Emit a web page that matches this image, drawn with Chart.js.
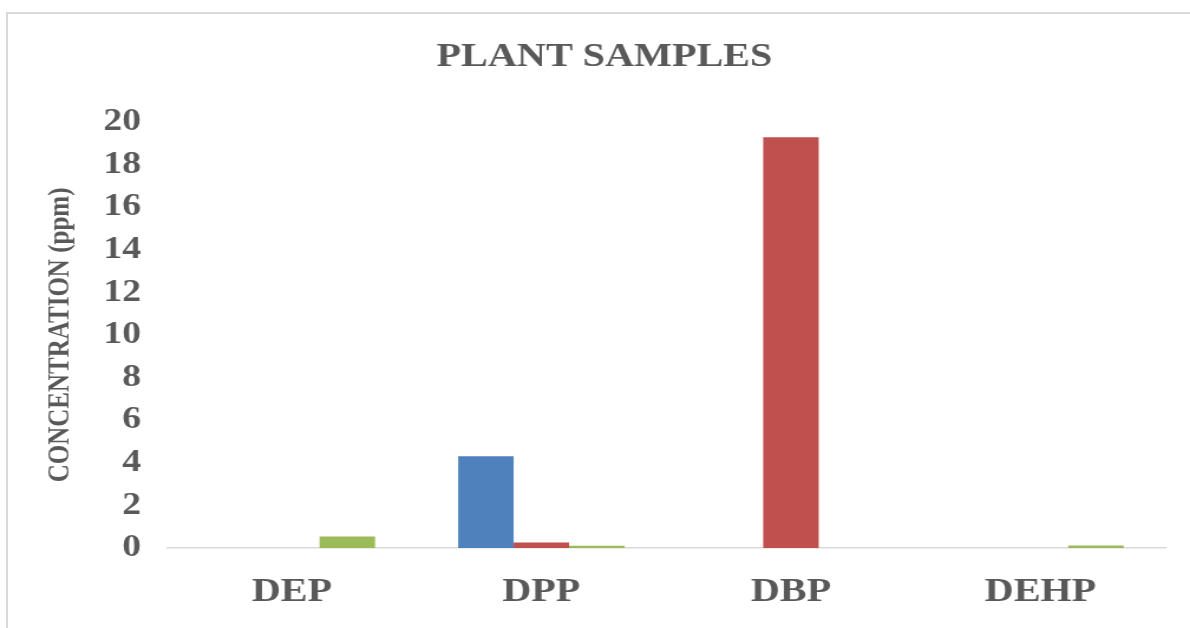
<!DOCTYPE html>
<html>
<head>
<meta charset="utf-8">
<title>PLANT SAMPLES</title>
<script src="https://cdn.jsdelivr.net/npm/chart.js@4.4.1/dist/chart.umd.min.js"></script>
<style>
  html, body { margin: 0; padding: 0; background: #ffffff; overflow: hidden; }
  body { width: 1190px; height: 628px; position: relative; }
  #frame {
    position: absolute; left: 6px; top: 12px; right: 0; bottom: 0;
    border-left: 2px solid #d9d9d9; border-top: 2px solid #d9d9d9;
  }
  /* chart is laid out narrower and widened, giving the wide serif lettering */
  #wrap {
    position: absolute; left: 0; top: 0;
    width: 1008px; height: 628px;
    transform: scaleX(1.1806); transform-origin: 0 0;
  }
</style>
</head>
<body>
<div id="frame"></div>
<div id="wrap"><canvas id="chart"></canvas></div>
<script>
// Phthalate concentrations measured in plant samples (ppm)
const categories = ['DEP', 'DPP', 'DBP', 'DEHP'];
const seriesNames = ['Sample A', 'Sample B', 'Sample C'];
const seriesA = [0, 4.31, 0, 0];
const seriesB = [0, 0.26, 19.28, 0];
const seriesC = [0.54, 0.10, 0, 0.12];
const yTicks = [0, 2, 4, 6, 8, 10, 12, 14, 16, 18, 20];

const colors = ['#4f81bd', '#c0504d', '#9bbb59'];
const textColor = '#595959';
const serif = '"Liberation Serif", "Times New Roman", serif';

const datasets = [seriesA, seriesB, seriesC].map((values, i) => ({
  label: seriesNames[i],
  data: values,
  backgroundColor: colors[i],
  borderWidth: 0,
  categoryPercentage: 0.667,
  barPercentage: 1.0
}));

new Chart(document.getElementById('chart'), {
  type: 'bar',
  data: { labels: categories, datasets },
  options: {
    responsive: true,
    maintainAspectRatio: false,
    animation: false,
    layout: { padding: { left: 37, right: 21, top: 0, bottom: 0 } },
    plugins: {
      legend: { display: false },
      tooltip: { enabled: false },
      title: {
        display: true,
        text: 'PLANT SAMPLES',
        color: textColor,
        font: { family: serif, size: 34, weight: 'bold' },
        padding: { top: 37, bottom: 44 }
      }
    },
    scales: {
      x: {
        grid: { display: false, drawTicks: false },
        border: { display: true, color: '#d9d9d9', width: 1.5 },
        ticks: {
          color: textColor,
          font: { family: serif, size: 34, weight: 'bold' },
          padding: 24,
          maxRotation: 0
        },
        afterFit: (scale) => { scale.height = 80; }
      },
      y: {
        min: 0,
        max: 20,
        afterBuildTicks: (scale) => { scale.ticks = yTicks.map(v => ({ value: v })); },
        grid: { display: false, drawTicks: false },
        border: { display: false },
        ticks: {
          color: textColor,
          font: { family: serif, size: 32, weight: 'bold' },
          padding: 22
        },
        title: {
          display: true,
          text: 'CONCENTRATION (ppm)',
          color: textColor,
          font: { family: serif, size: 25, weight: 'bold' },
          padding: { top: 0, bottom: 4 }
        },
        afterFit: (scale) => { scale.width = 104.5; }
      }
    }
  }
});
</script>
</body>
</html>
